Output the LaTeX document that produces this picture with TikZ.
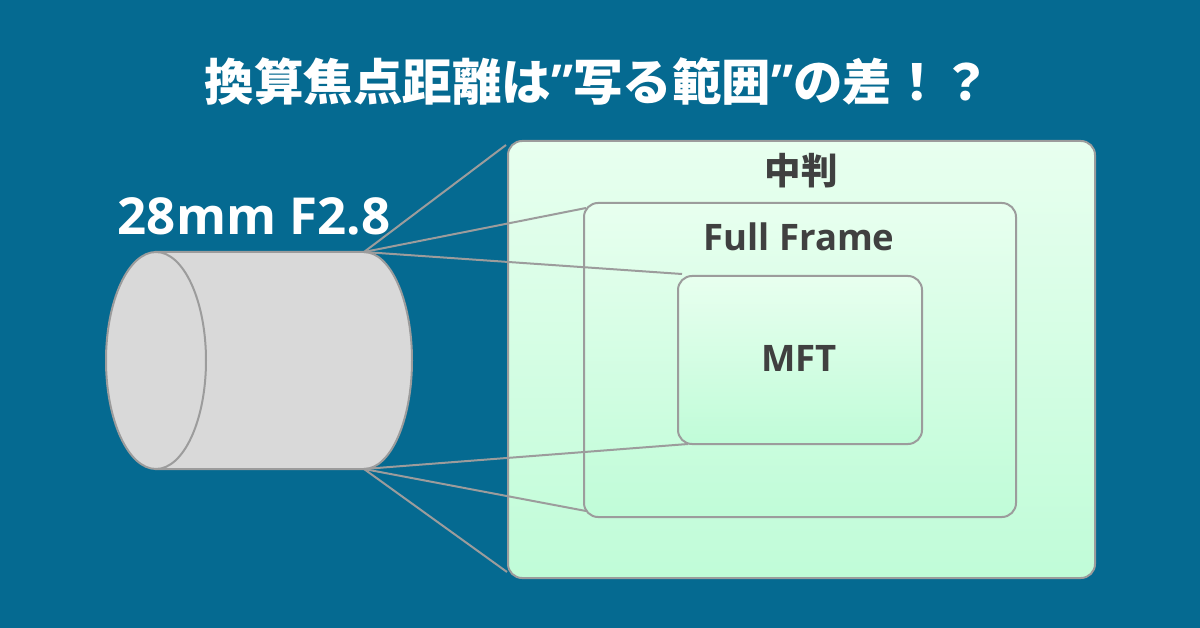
\documentclass[tikz,border=0pt]{standalone}
\usepackage{fontspec}
\setmainfont{Open Sans}
\newfontfamily\cjkfont{Noto Sans CJK JP}
\usetikzlibrary{shapes.geometric}
\definecolor{bgblue}{HTML}{056A91}
\definecolor{lensgray}{HTML}{D9D9D9}
\definecolor{edgegray}{HTML}{9C9C9C}
\definecolor{labelgray}{HTML}{404040}
\definecolor{mintlight}{HTML}{E8FFEF}
\definecolor{mintdark}{HTML}{C0FCD8}
\tikzset{
    framebox/.style={draw=edgegray,line width=2pt,rounded corners=14pt,inner sep=0pt,
        top color=mintlight,bottom color=mintdark},
    framelabel/.style={text=labelgray,font=\bfseries\fontsize{36.5}{41}\selectfont},
    rayline/.style={draw=edgegray,line width=2pt},
    lensline/.style={draw=edgegray,line width=2pt,fill=lensgray}
}
\begin{document}
\begin{tikzpicture}[x=1pt,y=-1pt]
        \fill[bgblue] (0,0) rectangle (1200,628);
        \useasboundingbox (0,0) rectangle (1200,628);

        % sensor frames
        \node[framebox,minimum width=587pt,minimum height=437pt] (medium) at (801.5,359.5) {};
        \node[framebox,minimum width=432pt,minimum height=314pt] (full) at (800,360) {};
        \node[framebox,minimum width=244pt,minimum height=168pt] (mft) at (800,360) {};
        \node[framelabel] (mediumlabel) at (801,171) {\cjkfont\bfseries 中判};
        \node[framelabel] (fulllabel) at (799,237) {Full Frame};
        \node[framelabel] (mftlabel) at (799,358) {MFT};

        % lens
        \coordinate (lenstop) at (364,252);
        \coordinate (lensbot) at (364,469);
        \filldraw[lensline] (156,252) -- (lenstop) arc (-90:90:48 and 108.5) -- (156,469) -- cycle;
        \node[draw=edgegray,line width=2pt,fill=lensgray,ellipse,inner sep=0pt,
            minimum width=100pt,minimum height=217pt] (lensfront) at (156,360.5) {};
        \node[text=white,font=\bfseries\fontsize{51}{55}\selectfont] (lenslabel) at (254,216) {28mm F2.8};

        % rays
        \coordinate (mediumtop) at (506,145);
        \coordinate (fulltop) at (586,208);
        \coordinate (mfttop) at (682,274);
        \coordinate (mftbot) at (688,444);
        \coordinate (fullbot) at (586,511);
        \coordinate (mediumbot) at (507,572);
        \draw[rayline] (lenstop) -- (mediumtop);
        \draw[rayline] (lenstop) -- (fulltop);
        \draw[rayline] (lenstop) -- (mfttop);
        \draw[rayline] (lensbot) -- (mftbot);
        \draw[rayline] (lensbot) -- (fullbot);
        \draw[rayline] (lensbot) -- (mediumbot);

        \node[text=white,font=\fontsize{49.5}{54}\selectfont\bfseries] (title) at (598,82)
            {\cjkfont\bfseries 換算焦点距離は{\rmfamily\bfseries ”}写る範囲{\rmfamily\bfseries ”}の差！？};
    \end{tikzpicture}
\end{document}
